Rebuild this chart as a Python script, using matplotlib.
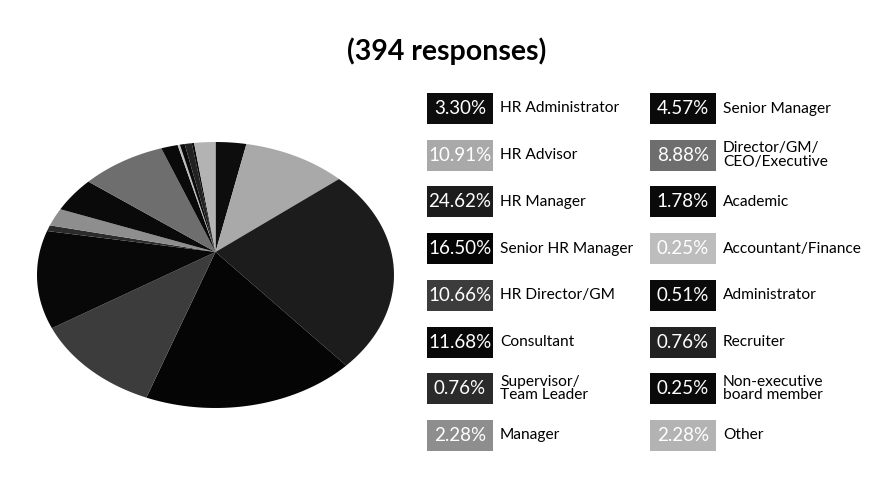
import numpy as np
import matplotlib
matplotlib.use("Agg")
import matplotlib.pyplot as plt
import matplotlib.transforms as mtransforms
from matplotlib.path import Path
from matplotlib.patches import Rectangle

# data, clockwise from 12 o'clock
labels = ["HR Administrator", "HR Advisor", "HR Manager", "Senior HR Manager",
          "HR Director/GM", "Consultant", "Supervisor/\nTeam Leader", "Manager",
          "Senior Manager", "Director/GM/\nCEO/Executive", "Academic",
          "Accountant/Finance", "Administrator", "Recruiter",
          "Non-executive\nboard member", "Other"]
shares = [3.30, 10.91, 24.62, 16.50, 10.66, 11.68, 0.76, 2.28,
          4.57, 8.88, 1.78, 0.25, 0.51, 0.76, 0.25, 2.28]
colors = ["#0d0d0d", "#a9a9a9", "#1c1c1c", "#050505", "#3c3c3c", "#080808",
          "#2b2b2b", "#8e8e8e", "#0a0a0a", "#6e6e6e", "#0a0a0a", "#bdbdbd",
          "#0a0a0a", "#222222", "#0a0a0a", "#b3b3b3"]
title = "(394 responses)"

plt.rcParams["font.family"] = ["Lato", "DejaVu Sans"]

W, H = 885, 497


class TiltTransform(mtransforms.Transform):
    """perspective view of the unit circle (pie seen at an angle)"""
    input_dims = 2
    output_dims = 2

    def __init__(self, cx, cy, rx, ry, k):
        super().__init__()
        self.cx, self.cy, self.ry, self.k = cx, cy, ry, k
        self.a = rx * np.sqrt(1 - k * k)

    def transform_non_affine(self, values):
        values = np.asarray(values, dtype=float)
        x, y = values[:, 0], values[:, 1]
        w = 1 + self.k * y
        return np.column_stack([self.cx + self.a * x / w,
                                self.cy + self.ry * (y + self.k) / w])

    def transform_path_non_affine(self, path):
        verts, codes = [], []
        for seg, code in path.iter_bezier():
            if code == Path.MOVETO:
                verts.append(seg.control_points[0])
                codes.append(Path.MOVETO)
            elif code in (Path.CURVE3, Path.CURVE4):
                pts = seg(np.linspace(0, 1, 24)[1:])
                verts.extend(pts)
                codes.extend([Path.LINETO] * len(pts))
            else:
                verts.append(seg.control_points[-1])
                codes.append(Path.LINETO)
        return Path(self.transform_non_affine(np.array(verts)), codes)


fig = plt.figure(figsize=(W / 100, H / 100), dpi=100)
ax = fig.add_axes([0, 0, 1, 1])

wedges, _ = ax.pie(shares, colors=colors, startangle=90, counterclock=False,
                   radius=1, center=(0, 0), wedgeprops=dict(linewidth=0))
# ellipse x 37..394, y 142..408 (image px), apex at y 252
tilt = TiltTransform(cx=215.5, cy=H - 275, rx=178.5, ry=133, k=23 / 133)
for w in wedges:
    w.set_transform(tilt + ax.transData)

ax.set_xlim(0, W)
ax.set_ylim(0, H)
ax.set_aspect("auto")
ax.axis("off")

ax.text(447, H - 51, title, ha="center", va="center", fontsize=20.5,
        fontweight="bold")

# legend boxes with percentages
col_x = [427, 650]
box_w, box_h = 66, 31
for i, (lab, sh, c) in enumerate(zip(labels, shares, colors)):
    x0 = col_x[i // 8]
    top = 93 + (i % 8) * 46.7
    yc = H - top - box_h / 2
    ax.add_patch(Rectangle((x0, H - top - box_h), box_w, box_h,
                           facecolor=c, linewidth=0))
    ax.text(x0 + box_w / 2, yc, f"{sh:.2f}%", color="white", ha="center",
            va="center", fontsize=13.5)
    ax.text(x0 + box_w + 7, yc, lab, color="black", ha="left", va="center",
            fontsize=11.2, linespacing=0.95)

fig.savefig("out.png", dpi=100, facecolor="white")
